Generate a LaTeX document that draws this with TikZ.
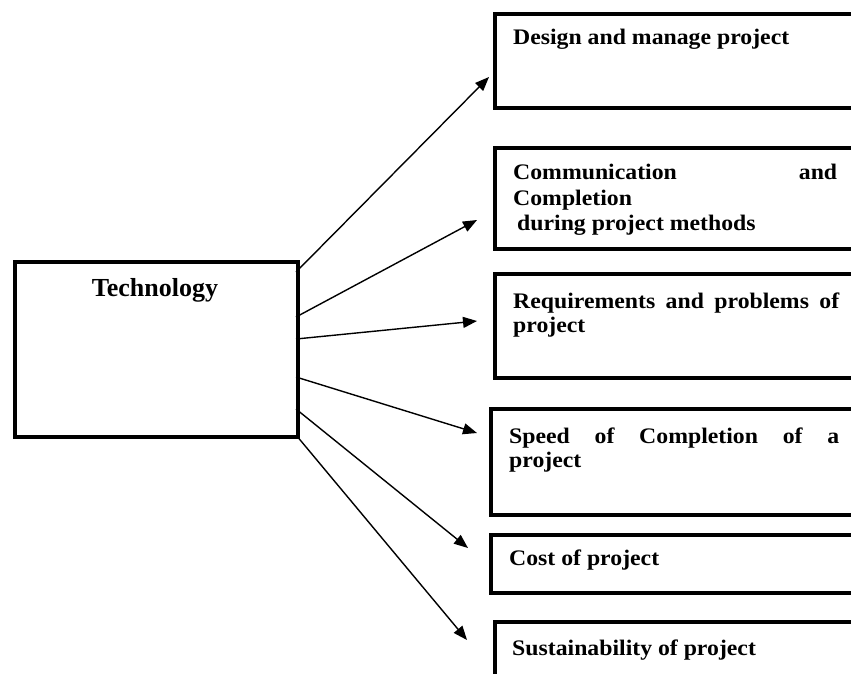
\documentclass[tikz,border=0pt]{standalone}
\usepackage{fontspec}
\setmainfont{Liberation Serif}
\newfontfamily\boxfont[FakeStretch=1.07]{Liberation Serif}
\usetikzlibrary{arrows.meta}
\begin{document}
\begin{tikzpicture}[x=1pt,y=-1pt,
  box/.style={draw, line width=4pt, rectangle, inner sep=0pt, anchor=north west, minimum width=400pt},
  lbl/.style={anchor=base west, inner sep=0pt, font=\boxfont\bfseries\fontsize{22.2}{24}\selectfont},
  conn/.style={line width=1.4pt, -{Triangle[length=14pt,width=11pt]}}]
\clip (0,0) rectangle (851,673);
\fill[white] (0,0) rectangle (851,673);
% central box
\node[box, minimum width=283pt, minimum height=175pt] (tech) at (13,260) {};
\node[anchor=base, inner sep=0pt, font=\bfseries\fontsize{26}{30}\selectfont] (techlbl) at (155,296) {Technology};
% right boxes
\node[box, minimum height=94pt]  (b1) at (493,12) {};
\node[box, minimum height=101pt] (b2) at (493,146) {};
\node[box, minimum height=104pt] (b3) at (493,272) {};
\node[box, minimum height=106pt] (b4) at (489,407) {};
\node[box, minimum height=58pt]  (b5) at (489,533) {};
\node[box, minimum height=100pt] (b6) at (493,620) {};
% labels
\node[lbl] (l1)  at (513,44)  {Design and manage project};
\node[lbl] (l2a) at (513,179) {\makebox[324pt][s]{Communication and}};
\node[lbl] (l2b) at (513,205) {Completion};
\node[lbl] (l2c) at (517,230) {during project methods};
\node[lbl] (l3a) at (513,308) {\makebox[326pt][s]{Requirements and problems of}};
\node[lbl] (l3b) at (513,332) {project};
\node[lbl] (l4a) at (509,443) {\makebox[330pt][s]{Speed of Completion of a}};
\node[lbl] (l4b) at (509,467) {project};
\node[lbl] (l5)  at (509,565) {Cost of project};
\node[lbl] (l6)  at (512,655) {Sustainability of project};
% connector ends
\coordinate (s1) at (296,272); \coordinate (t1) at (489,77);
\coordinate (s2) at (296,317); \coordinate (t2) at (477,220);
\coordinate (s3) at (296,339); \coordinate (t3) at (477,321);
\coordinate (s4) at (296,377); \coordinate (t4) at (477,433);
\coordinate (s5) at (296,409); \coordinate (t5) at (468,548);
\coordinate (s6) at (296,435); \coordinate (t6) at (467,640);
\foreach \i in {1,...,6} { \draw[conn] (s\i) -- (t\i); }
\end{tikzpicture}
\end{document}
